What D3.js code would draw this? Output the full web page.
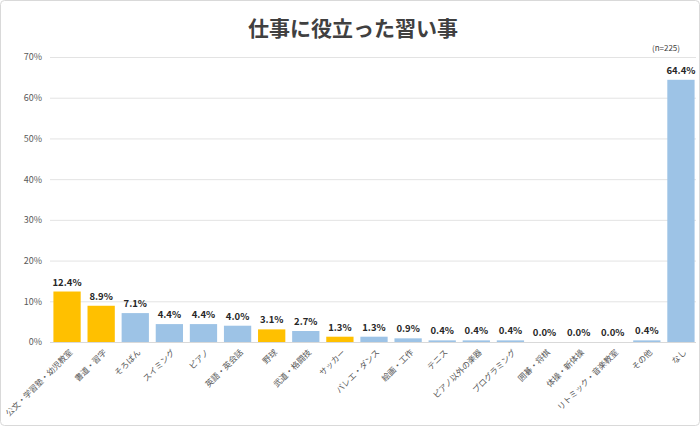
<!DOCTYPE html>
<html>
<head>
<meta charset="utf-8">
<script src="https://cdn.jsdelivr.net/npm/d3@7"></script>
<style>
  body { margin: 0; background: #fff; }
  svg text { font-family: "Noto Sans CJK JP", "Noto Sans", sans-serif; }
</style>
</head>
<body>
<div id="chart"></div>
<script>
// Chart data
const categories = ["公文・学習塾・幼児教室", "書道・習字", "そろばん", "スイミング", "ピアノ", "英語・英会話",
  "野球", "武道・格闘技", "サッカー", "バレエ・ダンス", "絵画・工作", "テニス", "ピアノ以外の楽器",
  "プログラミング", "囲碁・将棋", "体操・新体操", "リトミック・音楽教室", "その他", "なし"];
const values = [12.4, 8.9, 7.1, 4.4, 4.4, 4.0, 3.1, 2.7, 1.3, 1.3, 0.9, 0.4, 0.4, 0.4, 0.0, 0.0, 0.0, 0.4, 64.4];
const highlighted = ["公文・学習塾・幼児教室", "書道・習字", "野球", "サッカー"];
const yTicks = [0, 10, 20, 30, 40, 50, 60, 70];

const width = 700;
const height = 426;
const margin = {left: 50, right: 2, top: 57, bottom: 84};

const svg = d3.select("#chart")
  .append("svg")
  .attr("width", width)
  .attr("height", height);

// frame
svg.append("rect")
  .attr("x", 0.5).attr("y", 0.5)
  .attr("width", width - 1).attr("height", height - 1)
  .attr("rx", 4)
  .attr("fill", "#fff")
  .attr("stroke", "#d9d9d9");

// title
svg.append("text")
  .attr("x", width / 2 + 3)
  .attr("y", 36)
  .attr("text-anchor", "middle")
  .attr("font-size", "21px")
  .attr("font-weight", "bold")
  .attr("fill", "#404040")
  .text("仕事に役立った習い事");

svg.append("text")
  .attr("x", 666)
  .attr("y", 51)
  .attr("text-anchor", "middle")
  .attr("font-size", "8px")
  .attr("fill", "#404040")
  .text("(n=225)");

// scales
const yScale = d3.scaleLinear()
  .domain([0, 70])
  .range([height - margin.bottom, margin.top]);

const xScale = d3.scaleBand()
  .domain(categories)
  .range([margin.left, width - margin.right])
  .paddingInner(0.2)
  .paddingOuter(0.1);

// gridlines + y labels
const yAxis = svg.append("g")
  .attr("transform", `translate(${margin.left}, 0)`)
  .call(d3.axisLeft(yScale)
    .tickValues(yTicks)
    .tickSize(-(width - margin.left - 4))
    .tickPadding(8)
    .tickFormat(d => d + "%"));
yAxis.select(".domain").remove();
yAxis.selectAll(".tick line").attr("stroke", "#e3e3e3");
yAxis.selectAll(".tick text")
  .attr("font-size", "9px")
  .attr("fill", "#595959");

// bars
svg.selectAll(".bar")
  .data(values)
  .enter()
  .append("rect")
    .attr("class", "bar")
    .attr("x", (d, i) => xScale(categories[i]))
    .attr("y", d => yScale(d))
    .attr("width", xScale.bandwidth())
    .attr("height", d => yScale(0) - yScale(d))
    .attr("fill", (d, i) => highlighted.includes(categories[i]) ? "#ffc000" : "#9dc3e6");

// value labels
svg.selectAll(".val")
  .data(values)
  .enter()
  .append("text")
    .attr("class", "val")
    .attr("x", (d, i) => xScale(categories[i]) + xScale.bandwidth() / 2)
    .attr("y", d => yScale(d) - 6)
    .attr("text-anchor", "middle")
    .attr("font-size", "9.5px")
    .attr("font-weight", "bold")
    .attr("fill", "#262626")
    .text(d => d.toFixed(1) + "%");

// x axis labels
const xAxis = svg.append("g")
  .attr("transform", `translate(0, ${yScale(0)})`)
  .call(d3.axisBottom(xScale).tickSize(0).tickPadding(0));
xAxis.select(".domain").attr("stroke", "#d9d9d9").attr("d", `M${margin.left},0.5H${width - 4}`);
xAxis.selectAll(".tick text")
  .attr("font-size", "8.2px")
  .attr("fill", "#595959")
  .attr("text-anchor", "end")
  .attr("dy", "0")
  .attr("transform", "translate(6, 11) rotate(-45)");
</script>
</body>
</html>
